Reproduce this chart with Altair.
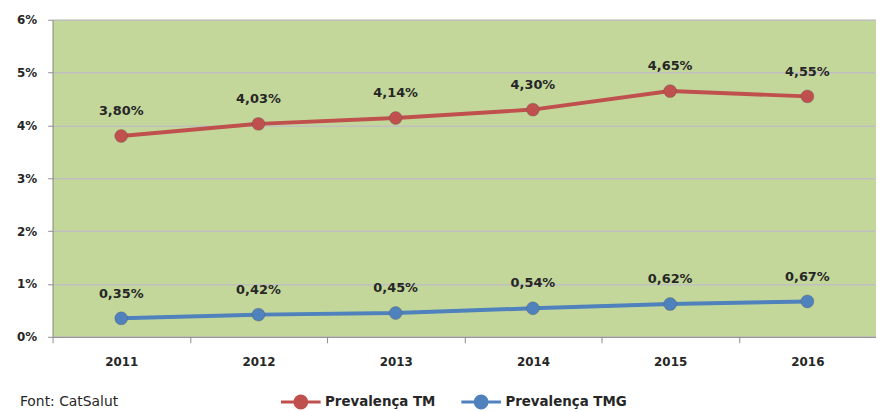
import altair as alt
import pandas as pd

years = ["2011", "2012", "2013", "2014", "2015", "2016"]
tm = [3.80, 4.03, 4.14, 4.30, 4.65, 4.55]
tmg = [0.35, 0.42, 0.45, 0.54, 0.62, 0.67]
series = ["Prevalença TM", "Prevalença TMG"]
colors = ["#C0504D", "#4F81BD"]
footer = ["Font: CatSalut"]

rows = []
for s, vals in zip(series, [tm, tmg]):
    for y, v in zip(years, vals):
        rows.append({"year": y, "value": v, "serie": s,
                     "label": f"{v:.2f}%".replace(".", ",")})
df = pd.DataFrame(rows)

FONT = "DejaVu Sans"

x = alt.X("year:N", bandPosition=0.5,
          scale=alt.Scale(type="band", paddingInner=0, paddingOuter=0),
          axis=alt.Axis(title=None, labelAngle=0, tickBand="extent",
                        labelFont=FONT, labelFontSize=12, labelFontWeight="bold",
                        labelColor="#262626", labelPadding=14, tickSize=6,
                        domainColor="#8C8C8C", tickColor="#8C8C8C", grid=False))
y = alt.Y("value:Q", scale=alt.Scale(domain=[0, 6], nice=False),
          axis=alt.Axis(title=None, values=[0, 1, 2, 3, 4, 5, 6],
                        labelExpr="datum.value + '%'", labelFont=FONT,
                        labelFontSize=12, labelFontWeight="bold",
                        labelColor="#262626", tickSize=5, labelPadding=11,
                        domainColor="#8C8C8C", tickColor="#8C8C8C",
                        gridColor="#BFBFBF", gridWidth=1.5))
color = alt.Color("serie:N", scale=alt.Scale(domain=series, range=colors),
                  legend=alt.Legend(title=None, orient="none", direction="horizontal",
                                    legendX=229, legendY=364,
                                    symbolType="M-1,0L1,0M0.3,0A0.3,0.3,0,1,1,-0.3,0A0.3,0.3,0,1,1,0.3,0Z",
                                    symbolSize=1600, symbolStrokeWidth=3,
                                    labelFont=FONT, labelFontSize=13.5,
                                    labelFontWeight="bold", labelColor="#262626",
                                    columnPadding=19, labelOffset=3))

base = alt.Chart(df).encode(x=x, y=y)

line = base.mark_line(strokeWidth=4).encode(color=color)
pts = base.mark_point(filled=True, size=170, opacity=1, strokeWidth=1,
                      stroke="#555555", strokeOpacity=0.35).encode(color=color)
txt = base.mark_text(dy=-25, font=FONT, fontSize=13, fontWeight="bold",
                     color="#262626").encode(text="label:N")

foot = alt.Chart(pd.DataFrame({"t": footer})).mark_text(
    align="left", baseline="bottom", font=FONT, fontSize=14,
    color="#262626"
).encode(x=alt.value(-33), y=alt.value(393), text="t:N")

chart = alt.layer(line, pts, txt, foot).properties(
    width=831, height=320,
    autosize=alt.AutoSizeParams(type="none"),
    padding={"left": 45, "top": 10, "right": 0, "bottom": 74},
).configure_view(fill="#C4D79B", stroke=None)

chart.save("out.html", embed_options={"renderer": "svg", "actions": False})
